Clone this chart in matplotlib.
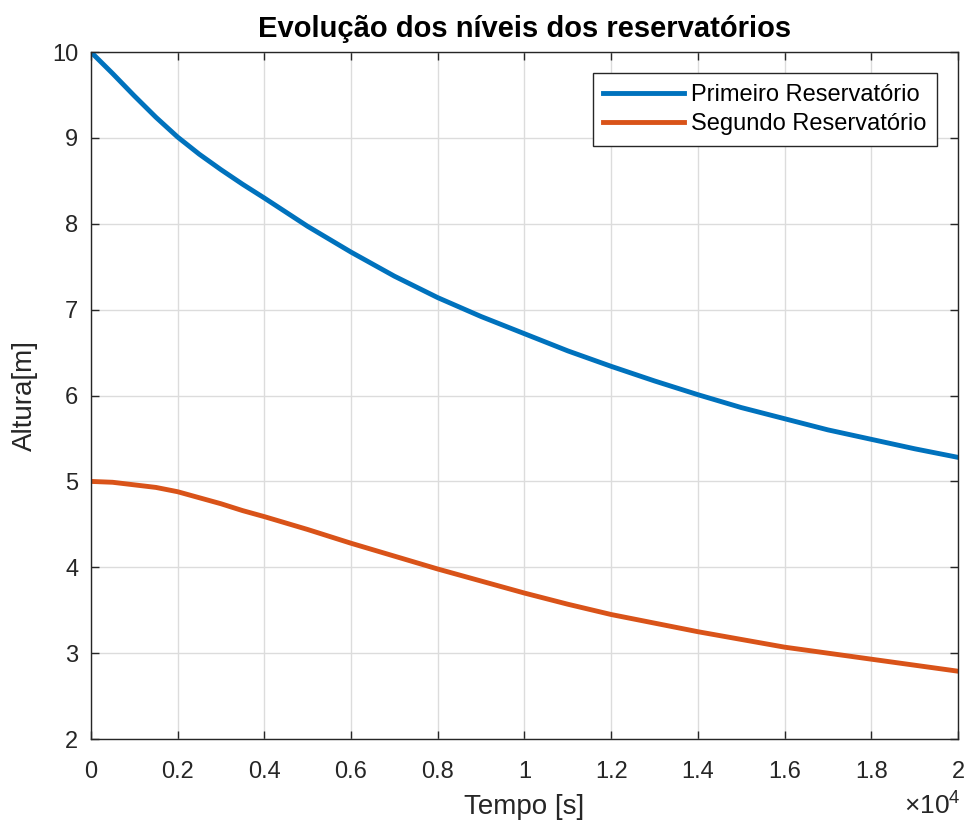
import matplotlib
matplotlib.use("Agg")
import matplotlib.pyplot as plt
from matplotlib.ticker import FuncFormatter

# (denser near t = 0 where the curves bend most)
tempo = [0, 500, 1000, 1500, 2000, 2500, 3000, 3500, 4000, 5000, 6000, 7000,
         8000, 9000, 10000, 11000, 12000, 13000, 14000, 15000, 16000, 17000,
         18000, 19000, 20000]
h1 = [10.0, 9.75, 9.49, 9.24, 9.01, 8.81, 8.63, 8.46, 8.30, 7.97, 7.67, 7.39,
      7.14, 6.92, 6.72, 6.52, 6.34, 6.17, 6.01, 5.86, 5.73, 5.60, 5.49, 5.38,
      5.28]
h2 = [5.0, 4.99, 4.96, 4.93, 4.88, 4.81, 4.74, 4.66, 4.59, 4.44, 4.28, 4.13,
      3.98, 3.84, 3.70, 3.57, 3.45, 3.35, 3.25, 3.16, 3.07, 3.00, 2.93, 2.86,
      2.79]
labels = ["Primeiro Reservatório", "Segundo Reservatório"]
colors = ["#0072BD", "#D95319"]

plt.rcParams["font.family"] = ["Liberation Sans", "DejaVu Sans"]
plt.rcParams["mathtext.fontset"] = "custom"
plt.rcParams["mathtext.rm"] = "Liberation Sans"
plt.rcParams["mathtext.it"] = "Liberation Sans"

fig = plt.figure(figsize=(9.67, 8.23), dpi=100)
ax = fig.add_axes([0.094, 0.102, 0.8967, 0.8348])

ax.plot(tempo, h1, color=colors[0], linewidth=3.5, label=labels[0])
ax.plot(tempo, h2, color=colors[1], linewidth=3.5, label=labels[1])

ax.set_xlim(0, 20000)
ax.set_ylim(2, 10)
ax.set_xticks(range(0, 20001, 2000))
ax.set_yticks(range(2, 11))
# MATLAB style: ticks in units of 1e4, exponent written at the corner
ax.xaxis.set_major_formatter(FuncFormatter(lambda v, p: f"{v / 1e4:g}"))

edge = "#262626"
for s in ax.spines.values():
    s.set_color(edge)
    s.set_linewidth(1.0)
ax.tick_params(direction="in", length=6, width=1.0, colors=edge,
               labelsize=17, top=True, right=True)
ax.tick_params(axis="x", pad=16)
ax.tick_params(axis="y", pad=9)
ax.grid(True, color="#dcdcdc", linewidth=1.0)
ax.set_axisbelow(True)

ax.set_title("Evolução dos níveis dos reservatórios", fontsize=21,
             fontweight="bold", pad=11)
ax.set_xlabel("Tempo [s]", fontsize=20, color=edge, labelpad=8)
ax.set_ylabel("Altura[m]", fontsize=20, color=edge, labelpad=10)

fig.text(0.994, 0.004, "×10$^{4}$", ha="right", va="bottom",
         fontsize=19, color=edge)

leg = ax.legend(loc="upper right", fontsize=17, frameon=True, fancybox=False,
                edgecolor=edge, framealpha=1, handlelength=3.4,
                handletextpad=0.3, borderpad=0.45, labelspacing=0.3,
                borderaxespad=0.9)
leg.get_frame().set_linewidth(1.0)

fig.savefig("out.png", dpi=100)
